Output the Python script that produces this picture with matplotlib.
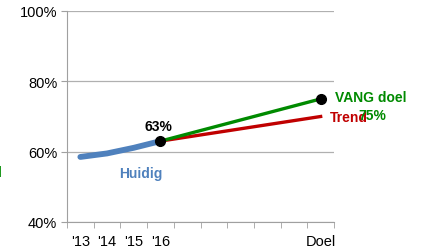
import matplotlib
matplotlib.use("Agg")
import matplotlib.pyplot as plt

categories = ["'13", "'14", "'15", "'16", "", "", "", "", "", "Doel"]
huidig = [58.5, 59.5, 61.1, 63.0]
vang_doel = [63.0, 75.0]
trend = [63.0, 70.0]

plt.rcParams.update({"font.family": "Liberation Sans", "font.size": 10.5})
fig = plt.figure(figsize=(4.22, 2.51), dpi=100)
ax = fig.add_axes([67 / 422, 28 / 251, 267 / 422, 211 / 251])

x = list(range(len(categories)))
ax.plot(x[:4], huidig, color="#4f81bd", lw=4.2, solid_capstyle="round", zorder=3)
ax.plot([x[3], x[-1]], trend, color="#c00000", lw=2.4, zorder=3)
ax.plot([x[3], x[-1]], vang_doel, color="#008a00", lw=2.4, zorder=4)
ax.plot([x[3], x[-1]], [huidig[-1], vang_doel[-1]], "o", color="black", ms=7, zorder=5)

ax.set_xlim(-0.5, len(categories) - 0.5)
ax.set_ylim(40, 100)
ax.set_yticks([40, 60, 80, 100])
ax.set_yticklabels(["40%", "60%", "80%", "100%"])
ax.set_xticks(x)
ax.set_xticklabels(categories)
ax.set_xticks([i - 0.5 for i in range(len(categories) + 1)], minor=True)
ax.tick_params(axis="x", which="major", length=0, pad=9)
ax.tick_params(axis="x", which="minor", length=4, color="#a0a0a0")
ax.tick_params(axis="y", length=4, color="#a0a0a0", pad=3)
ax.yaxis.grid(True, color="#b0b0b0", lw=0.9)
ax.set_axisbelow(True)
for s in ["top", "right"]:
    ax.spines[s].set_visible(False)
for s in ["left", "bottom"]:
    ax.spines[s].set_color("#a0a0a0")

ax.text(x[3] - 0.07, 67.4, "63%", ha="center", va="center", fontweight="bold", fontsize=10)
ax.text(2.26, 54.0, "Huidig", ha="center", va="center", fontweight="bold",
        color="#4f81bd", fontsize=10)
ax.text(9.36, 69.8, "Trend", ha="left", va="center", fontweight="bold",
        color="#c00000", fontsize=10, clip_on=False)
ax.text(9.54, 75.5, "VANG doel", ha="left", va="center", fontweight="bold",
        color="#008a00", fontsize=10, clip_on=False)
ax.text(10.93, 70.3, "75%", ha="center", va="center", fontweight="bold",
        color="#008a00", fontsize=10, clip_on=False)
fig.text(-0.004, 0.31, "l", ha="left", va="center", fontweight="bold",
         color="#008a00", fontsize=10)

fig.savefig("out.png", dpi=100)
